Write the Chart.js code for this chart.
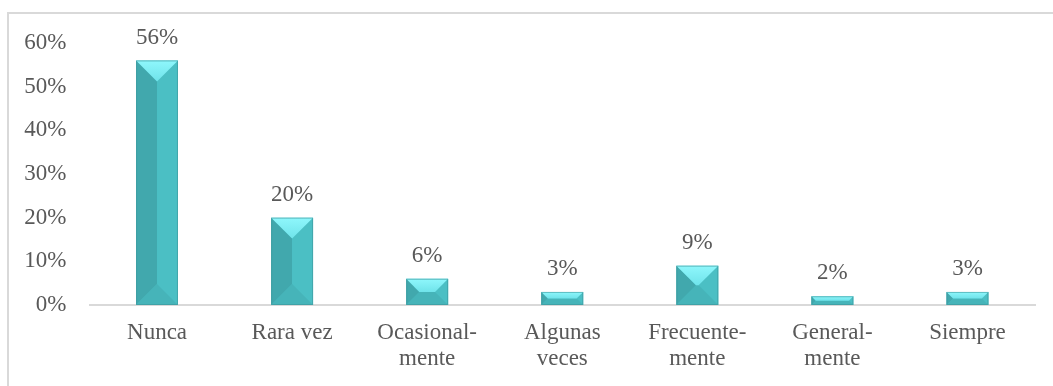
<!DOCTYPE html>
<html>
<head>
<meta charset="utf-8">
<script src="https://cdn.jsdelivr.net/npm/chart.js@4"></script>
<style>
  html, body { margin: 0; padding: 0; background: #fff; }
  #wrap { position: relative; width: 1053px; height: 386px; }
</style>
</head>
<body>
<div id="wrap"><canvas id="chart" width="1053" height="386"></canvas></div>
<script>
const categories = [
  'Nunca', 'Rara vez', ['Ocasional-', 'mente'], ['Algunas', 'veces'],
  ['Frecuente-', 'mente'], ['General-', 'mente'], 'Siempre'
];
const percentages = [56, 20, 6, 3, 9, 2, 3];
const yTicks = [0, 10, 20, 30, 40, 50, 60];

const textColor = '#595959';
const serif = '"Liberation Serif", "Times New Roman", serif';
const fontSize = 23;

// outer frame (only top and left edges are inside the window)
const framePlugin = {
  id: 'frame',
  beforeDraw(chart) {
    const ctx = chart.ctx;
    ctx.save();
    ctx.fillStyle = '#fff';
    ctx.fillRect(0, 0, chart.width, chart.height);
    ctx.strokeStyle = '#d9d9d9';
    ctx.lineWidth = 2;
    ctx.beginPath();
    ctx.moveTo(8, chart.height);
    ctx.lineTo(8, 13);
    ctx.lineTo(chart.width, 13);
    ctx.stroke();
    ctx.restore();
  }
};

// bevelled facets on each bar plus the value label above it
const bevelPlugin = {
  id: 'bevel',
  afterDatasetsDraw(chart) {
    const ctx = chart.ctx;
    const meta = chart.getDatasetMeta(0);
    meta.data.forEach((bar, i) => {
      const p = bar.getProps(['x', 'y', 'base', 'width'], true);
      const L = p.x - p.width / 2, R = p.x + p.width / 2;
      const T = p.y, B = p.base;
      const h = B - T, w = R - L;
      const d = Math.min(w, h) / 2;
      const poly = (pts, fill) => {
        ctx.beginPath();
        ctx.moveTo(pts[0][0], pts[0][1]);
        for (let k = 1; k < pts.length; k++) ctx.lineTo(pts[k][0], pts[k][1]);
        ctx.closePath();
        ctx.fillStyle = fill;
        ctx.fill();
      };
      ctx.save();
      // left
      poly([[L, T], [L + d, T + d], [L + d, B - d], [L, B]], '#41a8ad');
      // right
      poly([[R, T], [R - d, T + d], [R - d, B - d], [R, B]], '#4bbfc4');
      // bottom
      poly([[L, B], [L + d, B - d], [R - d, B - d], [R, B]], '#46b4b9');
      // top
      const g = ctx.createLinearGradient(0, T, 0, T + d);
      g.addColorStop(0, '#8ff7fc');
      g.addColorStop(1, '#6fe3ea');
      poly([[L, T], [R, T], [R - d, T + d], [L + d, T + d]], g);
      ctx.strokeStyle = 'rgba(60,150,155,0.6)';
      ctx.lineWidth = 1;
      ctx.strokeRect(L + 0.5, T + 0.5, w - 1, h - 1);
      ctx.restore();

      ctx.save();
      ctx.font = fontSize + 'px ' + serif;
      ctx.fillStyle = textColor;
      ctx.textAlign = 'center';
      ctx.textBaseline = 'middle';
      ctx.fillText(percentages[i] + '%', p.x, T - 23);
      ctx.restore();
    });
  }
};

new Chart(document.getElementById('chart'), {
  type: 'bar',
  data: {
    labels: categories,
    datasets: [{
      data: percentages,
      backgroundColor: '#4bbfc4',
      borderWidth: 0,
      categoryPercentage: 1,
      barPercentage: 0.31
    }]
  },
  options: {
    responsive: false,
    animation: false,
    layout: { padding: { left: 0, top: 43, right: 18, bottom: 0 } },
    plugins: { legend: { display: false }, tooltip: { enabled: false } },
    scales: {
      x: {
        grid: { display: false, drawTicks: false },
        border: { display: true, color: '#d9d9d9', width: 2 },
        ticks: {
          color: textColor,
          font: { family: serif, size: fontSize, lineHeight: 1.17 },
          padding: 14,
          maxRotation: 0,
          autoSkip: false
        },
        afterFit(scale) { scale.height = 81; }
      },
      y: {
        min: 0,
        max: 60,
        grid: { display: false, drawTicks: false },
        border: { display: false },
        afterBuildTicks(scale) { scale.ticks = yTicks.map(v => ({ value: v })); },
        ticks: {
          color: textColor,
          font: { family: serif, size: fontSize },
          padding: 23,
          callback: v => v + '%'
        },
        afterFit(scale) { scale.width = 89.5; }
      }
    }
  },
  plugins: [framePlugin, bevelPlugin]
});
</script>
</body>
</html>
